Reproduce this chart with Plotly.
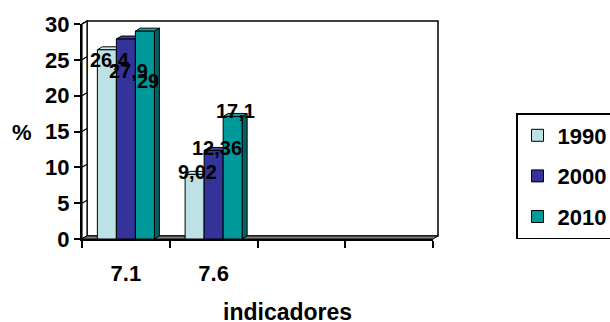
import plotly.graph_objects as go

# ---- data -------------------------------------------------------------
categories = ["7.1", "7.6"]
years = ["1990", "2000", "2010"]
values_1990 = [26.4, 9.02]
values_2000 = [27.9, 12.36]
values_2010 = [29, 17.1]
y_ticks = [0, 5, 10, 15, 20, 25, 30]

series_values = [values_1990, values_2000, values_2010]

# ---- styling ------------------------------------------------------------
front_colors = ["#BDE2E5", "#333399", "#009999"]
top_colors = ["#D2EEF0", "#4242A8", "#13A8A8"]
side_colors = ["#8FB3B6", "#1F1F66", "#006262"]
# pixel nudges of the value labels (per series, per category)
label_yshift = [[-10, 2], [-32, 2.5], [-50, 5]]
label_xshift = 3

FONT = "Liberation Sans, Arial, sans-serif"
W, H = 610, 322
FRONT_L, FRONT_R, FRONT_T, FRONT_B = 82, 433, 24, 239
DEPTH_X, DEPTH_Y = 5, 3          # 3-D depth of the wall / bars, px
N_SLOTS = 4                      # category slots on the x axis
Y_MAX = 30
BARGAP = 0.35

ML, MT = FRONT_L, FRONT_T - DEPTH_Y
MR = W - (FRONT_R + DEPTH_X)
MB = H - FRONT_B
PW, PH = W - ML - MR, H - MT - MB


def px_x(px):
    return (px - ML) / PW


def px_y(py):
    return (H - MB - py) / PH


front_w = FRONT_R - FRONT_L
front_h = FRONT_B - FRONT_T
# depth expressed in axis units of the front plane
dxu = DEPTH_X / (front_w / N_SLOTS)
dyu = DEPTH_Y / (front_h / Y_MAX)

fig = go.Figure()

x_idx = list(range(len(categories)))
for k, (year, vals) in enumerate(zip(years, series_values)):
    fig.add_trace(go.Bar(
        x=x_idx, y=vals, name=year, legendgroup=year,
        xaxis="x2", yaxis="y2",
        marker=dict(color=front_colors[k], line=dict(color="black", width=1)),
        hoverinfo="skip",
    ))

shapes = []
# back wall
shapes.append(dict(type="rect", xref="paper", yref="paper", layer="below",
                   x0=px_x(FRONT_L + DEPTH_X), x1=1, y0=px_y(FRONT_B - DEPTH_Y), y1=1,
                   fillcolor="white", line=dict(color="black", width=1.5)))
# left side wall
xl0, xl1 = px_x(FRONT_L), px_x(FRONT_L + DEPTH_X)
shapes.append(dict(type="path", xref="paper", yref="paper", layer="below",
                   path=f"M{xl0},{px_y(FRONT_B)} L{xl1},{px_y(FRONT_B - DEPTH_Y)} "
                        f"L{xl1},1 L{xl0},{px_y(FRONT_T)} Z",
                   fillcolor="white", line=dict(color="black", width=1.2)))
for t in y_ticks:
    yf = px_y(FRONT_B - t / Y_MAX * front_h)
    yb = px_y(FRONT_B - DEPTH_Y - t / Y_MAX * front_h)
    shapes.append(dict(type="line", xref="paper", yref="paper", layer="below",
                       x0=xl0, y0=yf, x1=xl1, y1=yb,
                       line=dict(color="black", width=1.2)))
# floor
fr = px_x(FRONT_R)
shapes.append(dict(type="path", xref="paper", yref="paper", layer="below",
                   path=f"M{xl0},{px_y(FRONT_B)} L{fr},{px_y(FRONT_B)} "
                        f"L1,{px_y(FRONT_B - DEPTH_Y)} L{xl1},{px_y(FRONT_B - DEPTH_Y)} Z",
                   fillcolor="#7F7F7F", line=dict(color="black", width=1)))

# top and side faces of the bars
bw = (1 - BARGAP) / len(years)
for k, vals in enumerate(series_values):
    for i, v in enumerate(vals):
        left = i - (1 - BARGAP) / 2 + k * bw
        right = left + bw
        shapes.append(dict(
            type="path", xref="x2", yref="y2", layer="between",
            path=f"M{right},0 L{right + dxu},{dyu} L{right + dxu},{v + dyu} L{right},{v} Z",
            fillcolor=side_colors[k], line=dict(color="black", width=1)))
        shapes.append(dict(
            type="path", xref="x2", yref="y2", layer="between",
            path=f"M{left},{v} L{left + dxu},{v + dyu} L{right + dxu},{v + dyu} L{right},{v} Z",
            fillcolor=top_colors[k], line=dict(color="black", width=1)))

annotations = []
for k, vals in enumerate(series_values):
    for i, v in enumerate(vals):
        center = i - (1 - BARGAP) / 2 + (k + 0.5) * bw
        annotations.append(dict(
            x=center, y=v, xref="x2", yref="y2", text=f"{v:g}".replace(".", ","),
            showarrow=False, xanchor="center", yanchor="middle",
            xshift=label_xshift, yshift=label_yshift[k][i],
            font=dict(family=FONT, size=20, color="black", weight="bold")))

annotations.append(dict(x=px_x(22), y=px_y(132), xref="paper", yref="paper",
                        text="%", showarrow=False, xanchor="center", yanchor="middle",
                        font=dict(family=FONT, size=22, color="black", weight="bold")))
annotations.append(dict(x=px_x(287), y=px_y(312), xref="paper", yref="paper",
                        text="indicadores", showarrow=False, xanchor="center",
                        yanchor="middle",
                        font=dict(family=FONT, size=23, color="black", weight="bold")))

tick_font = dict(family=FONT, size=22, color="black", weight="bold")

fig.update_layout(
    width=W, height=H,
    margin=dict(l=ML, r=MR, t=MT, b=MB, pad=0, autoexpand=False),
    paper_bgcolor="white", plot_bgcolor="rgba(0,0,0,0)",
    barmode="group", bargap=BARGAP, bargroupgap=0,
    showlegend=True,
    legend=dict(x=px_x(516), y=px_y(113), xanchor="left", yanchor="top",
                xref="paper", yref="paper",
                bordercolor="black", borderwidth=1.5, bgcolor="white",
                font=dict(family=FONT, size=22, color="black", weight="bold"),
                tracegroupgap=9, traceorder="grouped"),
    # back wall axes (gridlines only)
    xaxis=dict(domain=[px_x(FRONT_L + DEPTH_X), 1], range=[0, 1], visible=False,
               anchor="y"),
    yaxis=dict(domain=[px_y(FRONT_B - DEPTH_Y), 1], range=[0, Y_MAX], anchor="x",
               tickvals=y_ticks, showticklabels=False, ticks="",
               showgrid=True, gridcolor="black", gridwidth=1.3,
               zeroline=False, showline=False),
    # front plane axes
    xaxis2=dict(domain=[0, px_x(FRONT_R)], range=[-0.5, N_SLOTS - 0.5], anchor="y2",
                tickvals=x_idx, ticktext=categories, ticks="",
                ticklabelstandoff=14,
                minor=dict(tickvals=[j - 0.5 for j in range(N_SLOTS + 1)],
                           ticks="outside", ticklen=7, tickwidth=1.5,
                           tickcolor="black", showgrid=False),
                showgrid=False, zeroline=False, showline=True,
                linecolor="black", linewidth=2, tickfont=tick_font),
    yaxis2=dict(domain=[0, px_y(FRONT_T)], range=[0, Y_MAX], anchor="x2",
                tickvals=y_ticks, ticks="outside", ticklen=6, tickwidth=1.5,
                tickcolor="black", showgrid=False, zeroline=False,
                showline=True, linecolor="black", linewidth=2, tickfont=tick_font),
    shapes=shapes,
    annotations=annotations,
)

fig.write_html("out.html")
